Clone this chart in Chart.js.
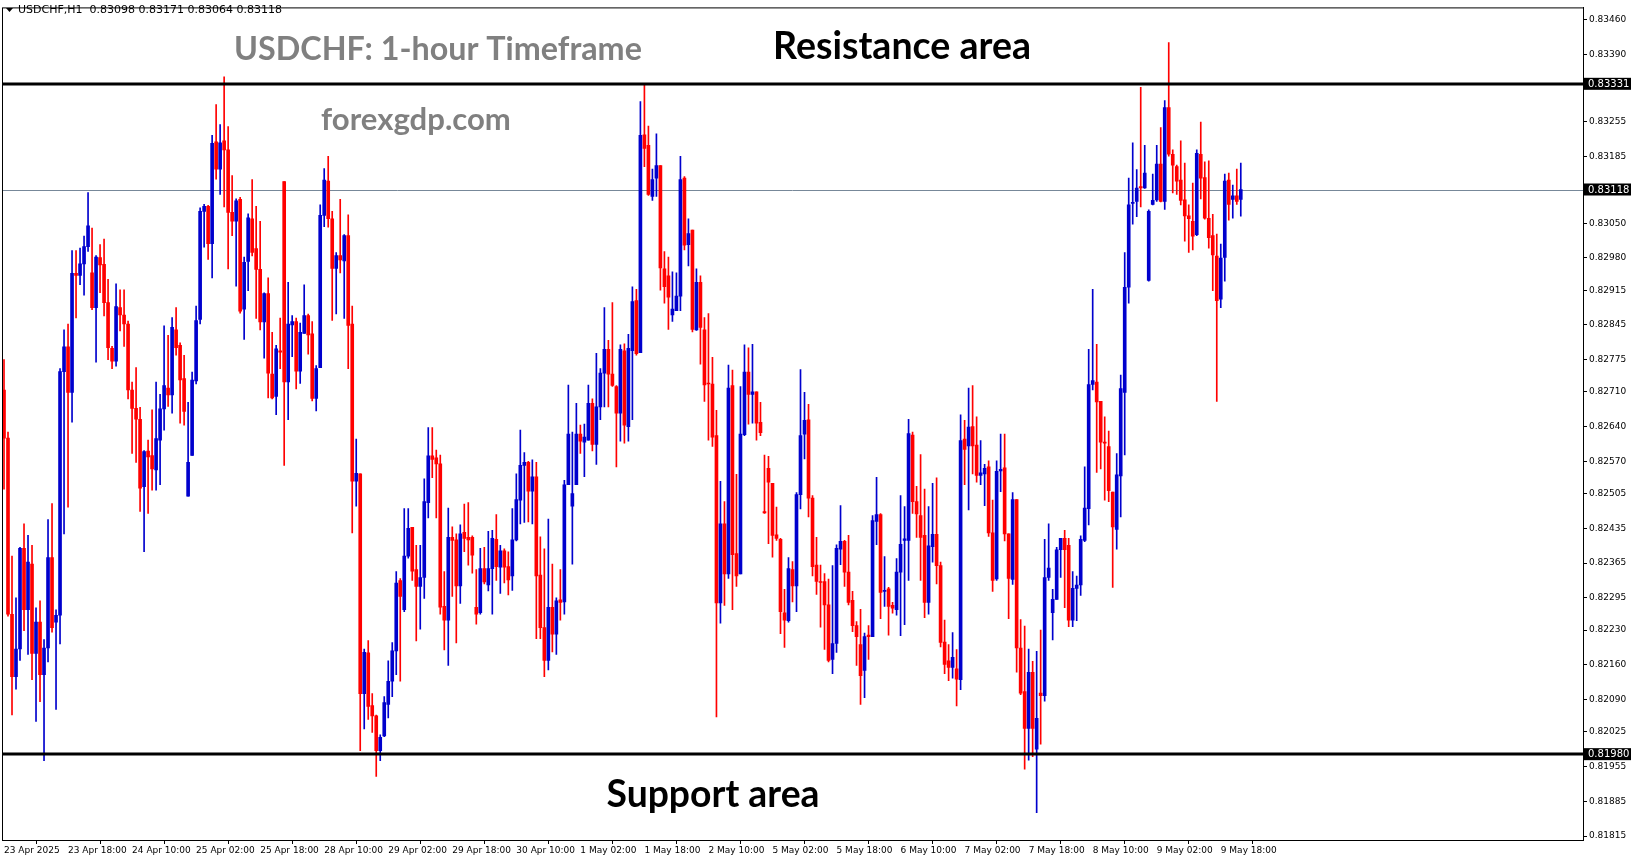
<!DOCTYPE html>
<html><head><meta charset="utf-8">
<script src="https://cdn.jsdelivr.net/npm/chart.js@4.4.1/dist/chart.umd.min.js"></script>
<style>html,body{margin:0;padding:0;background:#fff}#wrap{width:1631px;height:861px}</style>
</head><body><div id="wrap"><canvas id="c"></canvas></div>
<script>
const opens=[0.82714,0.82617,0.82262,0.82136,0.82192,0.82395,0.82271,0.82363,0.82183,0.82246,0.82140,0.82194,0.82376,0.82246,0.82260,0.82751,0.82801,0.82709,0.82949,0.82945,0.82968,0.83003,0.82950,0.82880,0.82981,0.82967,0.82890,0.82798,0.82772,0.82880,0.82865,0.82847,0.82714,0.82677,0.82655,0.82519,0.82591,0.82582,0.82553,0.82613,0.82676,0.82718,0.82704,0.82835,0.82804,0.82737,0.82500,0.82582,0.82732,0.82856,
0.83074,0.83084,0.83009,0.83214,0.83159,0.83216,0.83198,0.83072,0.83054,0.83098,0.82877,0.82973,0.83059,0.82999,0.82957,0.82851,0.82908,0.82746,0.82701,0.82793,0.83134,0.82730,0.82845,0.82852,0.82752,0.82828,0.82864,0.82827,0.82697,0.82759,0.83066,0.83135,0.83059,0.82959,0.82985,0.82974,0.83025,0.82847,0.82530,0.82545,0.82102,0.82184,0.82078,0.82057,0.81987,0.82017,0.82080,0.82127,0.82188,0.82330,
0.82271,0.82379,0.82437,0.82352,0.82318,0.82336,0.82487,0.82581,0.82577,0.82565,0.82278,0.82250,0.82417,0.82412,0.82319,0.82427,0.82417,0.82417,0.82276,0.82265,0.82354,0.82321,0.82354,0.82413,0.82357,0.82390,0.82358,0.82339,0.82412,0.82492,0.82562,0.82568,0.82510,0.82539,0.82341,0.82235,0.82169,0.82276,0.82222,0.82291,0.82287,0.82523,0.82480,0.82523,0.82625,0.82609,0.82613,0.82687,0.82604,0.82680,
0.82748,0.82796,0.82746,0.82721,0.82667,0.82793,0.82640,0.82793,0.82894,0.82789,0.83228,0.83207,0.83104,0.83141,0.83166,0.82958,0.82944,0.82865,0.82874,0.82903,0.83141,0.83007,0.83036,0.82835,0.82931,0.82835,0.82727,0.82726,0.82622,0.82285,0.82444,0.82343,0.82723,0.82384,0.82343,0.82624,0.82750,0.82705,0.82710,0.82649,0.82469,0.82556,0.82526,0.82422,0.82413,0.82265,0.82249,0.82352,0.82319,0.82503,
0.82625,0.82654,0.82496,0.82361,0.82328,0.82328,0.82281,0.82171,0.82203,0.82393,0.82409,0.82347,0.82290,0.82239,0.82201,0.82149,0.82220,0.82217,0.82449,0.82463,0.82308,0.82313,0.82280,0.82271,0.82347,0.82411,0.82411,0.82623,0.82489,0.82461,0.82421,0.82286,0.82398,0.82423,0.82360,0.82206,0.82168,0.82155,0.82152,0.82130,0.82615,0.82601,0.82640,0.82603,0.82542,0.82545,0.82559,0.82426,0.82333,0.82551,
0.82557,0.82424,0.82332,0.82493,0.82194,0.82106,0.82032,0.82145,0.81990,0.82103,0.82098,0.82336,0.82265,0.82292,0.82392,0.82415,0.82401,0.82250,0.82314,0.82321,0.82411,0.82475,0.82725,0.82730,0.82691,0.82609,0.82600,0.82508,0.82433,0.82541,0.82709,0.82921,0.83090,0.83094,0.83124,0.83121,0.82935,0.83088,0.83097,0.83169,0.83094,0.83283,0.83189,0.83164,0.83137,0.83097,0.83065,0.83054,0.83027,0.83189,
0.83142,0.83060,0.83025,0.82984,0.82897,0.82981,0.83137,0.83098,0.83105,0.83098];
const highs=[0.82775,0.82629,0.82379,0.82295,0.82397,0.82444,0.82421,0.82401,0.82275,0.82289,0.82211,0.82453,0.82485,0.82271,0.82757,0.82835,0.82847,0.82995,0.82995,0.83000,0.83024,0.83112,0.83040,0.82985,0.83007,0.83018,0.82937,0.82802,0.82928,0.82916,0.82916,0.82853,0.82730,0.82759,0.82679,0.82592,0.82613,0.82674,0.82730,0.82705,0.82843,0.82824,0.82860,0.82880,0.82809,0.82784,0.82689,0.82750,0.82883,0.83081,
0.83088,0.83086,0.83227,0.83289,0.83249,0.83345,0.83245,0.83146,0.83099,0.83102,0.82982,0.83069,0.83138,0.83084,0.83054,0.82910,0.82940,0.82830,0.82804,0.82859,0.83134,0.82931,0.82864,0.82859,0.82849,0.82926,0.82867,0.82852,0.82763,0.83087,0.83160,0.83185,0.83074,0.82991,0.83098,0.83027,0.83067,0.82883,0.82615,0.82545,0.82192,0.82209,0.82102,0.82059,0.82019,0.82096,0.82168,0.82205,0.82348,0.82334,
0.82475,0.82475,0.82437,0.82401,0.82401,0.82535,0.82638,0.82638,0.82593,0.82583,0.82348,0.82476,0.82438,0.82424,0.82442,0.82484,0.82487,0.82420,0.82352,0.82395,0.82397,0.82429,0.82431,0.82463,0.82401,0.82394,0.82388,0.82475,0.82545,0.82633,0.82588,0.82570,0.82573,0.82568,0.82418,0.82394,0.82454,0.82363,0.82295,0.82352,0.82532,0.82724,0.82629,0.82687,0.82643,0.82645,0.82724,0.82696,0.82788,0.82757,
0.82880,0.82814,0.82890,0.82723,0.82805,0.82807,0.82826,0.82922,0.82917,0.83295,0.83329,0.83246,0.83159,0.83230,0.83166,0.82993,0.82982,0.82952,0.82950,0.83185,0.83144,0.83059,0.83036,0.82958,0.82944,0.82860,0.82868,0.82780,0.82673,0.82530,0.82489,0.82764,0.82754,0.82544,0.82721,0.82805,0.82799,0.82806,0.82710,0.82689,0.82583,0.82580,0.82526,0.82478,0.82415,0.82312,0.82376,0.82368,0.82507,0.82755,
0.82709,0.82685,0.82501,0.82417,0.82361,0.82344,0.82333,0.82360,0.82402,0.82481,0.82411,0.82421,0.82308,0.82247,0.82272,0.82224,0.82239,0.82461,0.82538,0.82465,0.82378,0.82316,0.82286,0.82374,0.82501,0.82479,0.82655,0.82629,0.82520,0.82584,0.82514,0.82479,0.82526,0.82537,0.82367,0.82250,0.82201,0.82225,0.82191,0.82664,0.82653,0.82718,0.82723,0.82660,0.82612,0.82564,0.82571,0.82492,0.82571,0.82625,
0.82625,0.82424,0.82507,0.82493,0.82251,0.82238,0.82192,0.82167,0.82187,0.82230,0.82413,0.82444,0.82312,0.82397,0.82415,0.82431,0.82415,0.82348,0.82339,0.82420,0.82559,0.82796,0.82917,0.82806,0.82691,0.82660,0.82631,0.82508,0.82586,0.82744,0.82991,0.83141,0.83212,0.83158,0.83324,0.83207,0.83077,0.83149,0.83207,0.83243,0.83297,0.83414,0.83198,0.83167,0.83216,0.83171,0.83087,0.83131,0.83198,0.83254,
0.83174,0.83176,0.83068,0.83028,0.83008,0.83149,0.83151,0.83127,0.83159,0.83171];
const lows=[0.82514,0.82258,0.82059,0.82111,0.82169,0.82229,0.82181,0.82130,0.82046,0.82086,0.81967,0.82166,0.82226,0.82070,0.82202,0.82424,0.82478,0.82649,0.82859,0.82926,0.82905,0.82993,0.82876,0.82770,0.82910,0.82863,0.82775,0.82757,0.82762,0.82833,0.82802,0.82696,0.82586,0.82568,0.82469,0.82388,0.82465,0.82512,0.82512,0.82523,0.82633,0.82681,0.82667,0.82784,0.82647,0.82643,0.82500,0.82582,0.82726,0.82847,
0.83002,0.82977,0.82940,0.83139,0.83108,0.83083,0.82958,0.83025,0.82923,0.82869,0.82816,0.82914,0.82984,0.82858,0.82835,0.82778,0.82698,0.82696,0.82664,0.82757,0.82562,0.82654,0.82781,0.82716,0.82727,0.82828,0.82786,0.82692,0.82672,0.82759,0.83043,0.83042,0.82854,0.82867,0.82950,0.82858,0.82757,0.82426,0.82480,0.81987,0.82031,0.82050,0.82024,0.81935,0.81967,0.82015,0.82053,0.82096,0.82140,0.82127,
0.82267,0.82375,0.82330,0.82208,0.82232,0.82294,0.82456,0.82537,0.82456,0.82262,0.82190,0.82159,0.82298,0.82204,0.82284,0.82388,0.82361,0.82345,0.82242,0.82262,0.82323,0.82309,0.82262,0.82330,0.82304,0.82325,0.82301,0.82310,0.82410,0.82444,0.82447,0.82448,0.82444,0.82213,0.82213,0.82136,0.82150,0.82186,0.82181,0.82250,0.82262,0.82523,0.82363,0.82523,0.82586,0.82539,0.82613,0.82591,0.82564,0.82654,
0.82680,0.82680,0.82721,0.82559,0.82611,0.82607,0.82611,0.82654,0.82784,0.82789,0.83164,0.83106,0.83096,0.83104,0.82915,0.82889,0.82836,0.82852,0.82874,0.82874,0.82996,0.82964,0.82831,0.82834,0.82766,0.82691,0.82613,0.82600,0.82055,0.82244,0.82280,0.82334,0.82271,0.82318,0.82343,0.82622,0.82645,0.82647,0.82613,0.82622,0.82465,0.82404,0.82377,0.82411,0.82223,0.82195,0.82246,0.82287,0.82267,0.82474,
0.82575,0.82458,0.82339,0.82302,0.82236,0.82191,0.82166,0.82142,0.82185,0.82362,0.82318,0.82281,0.82227,0.82159,0.82080,0.82094,0.82171,0.82217,0.82402,0.82253,0.82278,0.82220,0.82264,0.82260,0.82219,0.82241,0.82330,0.82465,0.82417,0.82330,0.82255,0.82262,0.82367,0.82323,0.82196,0.82142,0.82128,0.82133,0.82077,0.82110,0.82523,0.82472,0.82545,0.82528,0.82523,0.82481,0.82419,0.82308,0.82330,0.82509,
0.82410,0.82253,0.82322,0.82145,0.82100,0.81950,0.81968,0.81975,0.81862,0.82000,0.82087,0.82330,0.82210,0.82292,0.82336,0.82275,0.82237,0.82237,0.82249,0.82300,0.82408,0.82442,0.82714,0.82548,0.82555,0.82492,0.82489,0.82316,0.82393,0.82458,0.82583,0.82889,0.83048,0.83063,0.83083,0.83120,0.82933,0.83087,0.83094,0.83093,0.83078,0.83185,0.83111,0.83108,0.83087,0.83014,0.82991,0.82996,0.83025,0.83099,
0.83058,0.83000,0.82914,0.82691,0.82880,0.82933,0.83056,0.83060,0.83088,0.83064];
const closes=[0.82617,0.82262,0.82136,0.82192,0.82395,0.82271,0.82367,0.82183,0.82246,0.82140,0.82194,0.82376,0.82235,0.82260,0.82751,0.82801,0.82709,0.82949,0.82945,0.82968,0.83003,0.83045,0.82880,0.82982,0.82966,0.82890,0.82799,0.82772,0.82882,0.82865,0.82847,0.82714,0.82677,0.82655,0.82516,0.82590,0.82579,0.82555,0.82616,0.82676,0.82723,0.82704,0.82840,0.82799,0.82734,0.82671,0.82568,0.82734,0.82854,0.83074,
0.83084,0.83009,0.83211,0.83159,0.83212,0.83198,0.83072,0.83054,0.83095,0.82873,0.82971,0.83061,0.82991,0.82957,0.82851,0.82908,0.82748,0.82698,0.82797,0.82790,0.82730,0.82847,0.82852,0.82752,0.82830,0.82864,0.82825,0.82697,0.82757,0.83066,0.83137,0.83059,0.82959,0.82985,0.82976,0.83025,0.82844,0.82530,0.82546,0.82102,0.82185,0.82076,0.82057,0.81987,0.82014,0.82084,0.82127,0.82188,0.82325,0.82298,
0.82379,0.82435,0.82349,0.82318,0.82336,0.82489,0.82581,0.82574,0.82565,0.82276,0.82250,0.82417,0.82411,0.82319,0.82424,0.82415,0.82412,0.82381,0.82262,0.82354,0.82327,0.82354,0.82415,0.82358,0.82390,0.82357,0.82331,0.82412,0.82493,0.82562,0.82568,0.82510,0.82539,0.82339,0.82235,0.82169,0.82276,0.82222,0.82289,0.82286,0.82523,0.82625,0.82505,0.82625,0.82611,0.82619,0.82687,0.82604,0.82680,0.82748,
0.82796,0.82746,0.82723,0.82667,0.82796,0.82643,0.82798,0.82892,0.82787,0.83227,0.83201,0.83108,0.83138,0.83166,0.82960,0.82922,0.82901,0.82877,0.82903,0.83138,0.83006,0.83029,0.82836,0.82931,0.82840,0.82724,0.82726,0.82619,0.82285,0.82444,0.82343,0.82718,0.82382,0.82339,0.82625,0.82750,0.82705,0.82710,0.82647,0.82628,0.82466,0.82528,0.82421,0.82415,0.82267,0.82250,0.82354,0.82319,0.82503,0.82622,
0.82653,0.82496,0.82358,0.82328,0.82326,0.82281,0.82169,0.82203,0.82395,0.82409,0.82347,0.82286,0.82239,0.82217,0.82138,0.82217,0.82217,0.82451,0.82463,0.82306,0.82309,0.82278,0.82274,0.82347,0.82403,0.82414,0.82626,0.82489,0.82464,0.82417,0.82286,0.82400,0.82423,0.82360,0.82205,0.82161,0.82155,0.82175,0.82131,0.82612,0.82594,0.82639,0.82601,0.82542,0.82547,0.82556,0.82426,0.82330,0.82550,0.82554,
0.82424,0.82334,0.82493,0.82194,0.82103,0.82032,0.82145,0.82032,0.82052,0.82098,0.82336,0.82355,0.82292,0.82392,0.82415,0.82392,0.82250,0.82314,0.82321,0.82413,0.82476,0.82725,0.82733,0.82690,0.82609,0.82607,0.82511,0.82438,0.82543,0.82717,0.82921,0.83087,0.83092,0.83121,0.83121,0.83151,0.83074,0.83096,0.83169,0.83094,0.83283,0.83189,0.83167,0.83135,0.83096,0.83065,0.83059,0.83024,0.83191,0.83141,
0.83060,0.83021,0.82986,0.82894,0.82980,0.83135,0.83088,0.83105,0.83094,0.83118];
const timeLabels=["23 Apr 2025","23 Apr 18:00","24 Apr 10:00","25 Apr 02:00","25 Apr 18:00","28 Apr 10:00","29 Apr 02:00","29 Apr 18:00","30 Apr 10:00","1 May 02:00","1 May 18:00","2 May 10:00","5 May 02:00","5 May 18:00","6 May 10:00","7 May 02:00","7 May 18:00","8 May 10:00","9 May 02:00","9 May 18:00"];
const priceTicks=[0.83460,0.83390,0.83325,0.83255,0.83185,0.83050,0.82980,0.82915,0.82845,0.82775,0.82710,0.82640,0.82570,0.82505,0.82435,0.82365,0.82295,0.82230,0.82160,0.82090,0.82025,0.81955,0.81885,0.81815];
const resistance=0.83331, support=0.81980, lastPrice=0.83118;
const headerText="USDCHF,H1  0.83098 0.83171 0.83064 0.83118";

const SLOTS=395, LABEL_STEP=16;
const labels=[];for(let i=0;i<SLOTS;i++){labels.push(i%LABEL_STEP===0&&timeLabels[i/LABEL_STEP]?timeLabels[i/LABEL_STEP]:'');}
const BULL='#0000CD', BEAR='#FF0000';
const cols=closes.map((c,i)=>c>=opens[i]?BULL:BEAR);
const wick=lows.map((l,i)=>[l,highs[i]]);
const body=opens.map((o,i)=>[o,closes[i]]);

const deco={id:'deco',
beforeDraw(ch){const c=ch.ctx;c.save();c.fillStyle='#fff';c.fillRect(0,0,ch.width,ch.height);c.restore();},
beforeDatasetsDraw(ch){const c=ch.ctx,a=ch.chartArea,y=ch.scales.y;c.save();
 c.strokeStyle='#778899';c.lineWidth=1;const yl=Math.round(y.getPixelForValue(lastPrice))+0.5;
 c.beginPath();c.moveTo(a.left,yl);c.lineTo(a.right,yl);c.stroke();c.restore();},
afterDatasetsDraw(ch){const c=ch.ctx,a=ch.chartArea,y=ch.scales.y;c.save();
 c.strokeStyle='#000';c.lineWidth=3;
 [resistance,support].forEach(v=>{const py=Math.round(y.getPixelForValue(v));c.beginPath();c.moveTo(a.left,py);c.lineTo(a.right,py);c.stroke();});
 c.lineWidth=1;c.strokeRect(a.left+0.5,a.top+0.5,a.right-a.left,a.bottom-a.top);
 c.fillStyle='#000';c.beginPath();c.moveTo(6,8);c.lineTo(13,8);c.lineTo(9.5,12);c.closePath();c.fill();
 c.font='11px "DejaVu Sans"';c.textBaseline='middle';c.textAlign='left';c.fillText(headerText,18,10.5);
 const txt=(s,cx,cy,w,color)=>{c.font='bold 30px Lato';const m=c.measureText(s).width;const fs=30*w/m;c.font='bold '+fs.toFixed(1)+'px Lato';c.fillStyle=color;c.textAlign='center';c.textBaseline='middle';c.fillText(s,cx,cy);};
 txt('USDCHF: 1-hour Timeframe',438,50,408,'#808080');
 txt('forexgdp.com',416,120,190,'#808080');
 txt('Resistance area',902,47,258,'#000');
 txt('Support area',713,795,213,'#000');
 c.font='10px "DejaVu Sans"';c.textAlign='left';c.textBaseline='middle';
 [resistance,lastPrice,support].forEach(v=>{const py=y.getPixelForValue(v);c.fillStyle='#000';c.fillRect(a.right+1,py-6,48,12);c.fillStyle='#fff';c.fillText(v.toFixed(5),a.right+5,py+0.5);});
 c.restore();}};

new Chart(document.getElementById('c'),{type:'bar',
data:{labels,datasets:[
 {data:wick,backgroundColor:cols,barThickness:1,grouped:false,borderSkipped:false},
 {data:body,backgroundColor:cols,barThickness:3,minBarLength:1,grouped:false,borderSkipped:false}]},
options:{responsive:true,maintainAspectRatio:false,animation:false,
 layout:{padding:{left:2,top:2,right:0,bottom:0}},
 plugins:{legend:{display:false},tooltip:{enabled:false}},
 scales:{
  x:{type:'category',offset:true,grid:{display:true,drawOnChartArea:false,tickLength:4,color:'#000'},border:{display:false},
   afterBuildTicks:s=>{s.ticks=s.ticks.filter(t=>labels[t.value]);},
   afterFit:s=>{s.height=21;},
   ticks:{autoSkip:false,maxRotation:0,align:'start',padding:1,color:'#000',font:{family:'DejaVu Sans',size:9},callback:(v,i)=>labels[v]}},
  y:{position:'right',min:0.81807,max:0.83485,grid:{display:true,drawOnChartArea:false,tickLength:4,color:'#000'},border:{display:true,color:'#000'},
   afterBuildTicks:s=>{s.ticks=priceTicks.map(v=>({value:v}));},
   afterFit:s=>{s.width=48;},
   ticks:{color:'#000',padding:2,font:{family:'DejaVu Sans',size:9},callback:v=>Number(v).toFixed(5)}}}},
plugins:[deco]});
</script></body></html>
